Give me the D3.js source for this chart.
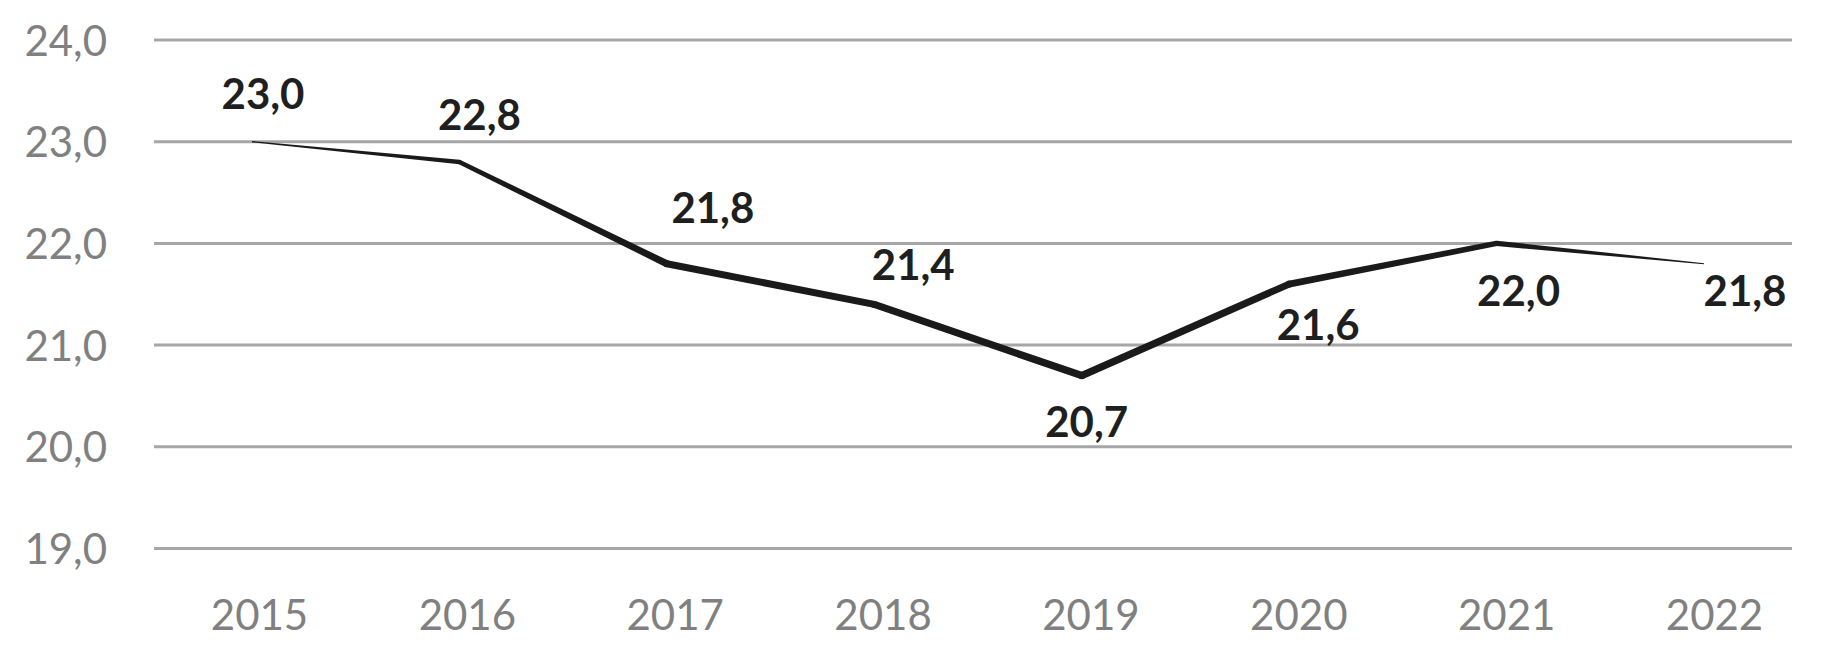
<!DOCTYPE html>
<html>
<head>
<meta charset="utf-8">
<script src="https://cdn.jsdelivr.net/npm/d3@7"></script>
<style>
  html, body { margin: 0; padding: 0; background: #ffffff; }
  svg { display: block; }
</style>
</head>
<body>
<svg id="chart" width="1833" height="655"></svg>
<script>
// ---- data ----
const years = ["2015", "2016", "2017", "2018", "2019", "2020", "2021", "2022"];
const values = [23.0, 22.8, 21.8, 21.4, 20.7, 21.6, 22.0, 21.8];
const valueLabels = ["23,0", "22,8", "21,8", "21,4", "20,7", "21,6", "22,0", "21,8"];
const yTicks = [19, 20, 21, 22, 23, 24];
const yTickLabels = ["19,0", "20,0", "21,0", "22,0", "23,0", "24,0"];

// ---- styling / placement (not data) ----
const strokeWidths = [1.4, 4.4, 7, 7, 7.4, 7, 5.4, 1.2];
const labelDx = [11, 20, 46, 39, 5, 29, 22, 41];
const labelDy = [-33, -32, -41, -24, 61, 56, 63, 42];

const svg = d3.select("#chart");
const W = 1833, H = 655;
svg.append("rect").attr("width", W).attr("height", H).attr("fill", "#ffffff");

const gridLeft = 154, gridRight = 1792;
const y = d3.scaleLinear().domain([19, 24]).range([548.5, 40]);
const x = d3.scalePoint().domain(years).range([252, 1704]);
const xLab = d3.scalePoint().domain(years).range([259, 1714]);

const font = "Lato, 'Open Sans', sans-serif";

// gridlines
svg.append("g").selectAll("line").data(yTicks).join("line")
  .attr("x1", gridLeft).attr("x2", gridRight)
  .attr("y1", d => y(d)).attr("y2", d => y(d))
  .attr("stroke", "#a6a6a6").attr("stroke-width", 3);

// y axis labels
const yAxis = d3.axisLeft(y).tickValues(yTicks)
  .tickFormat((d, i) => yTickLabels[i]).tickSize(0).tickPadding(0);
const gy = svg.append("g").attr("transform", "translate(107,0)").call(yAxis);
gy.select(".domain").remove();
gy.selectAll("text").attr("font-family", font).attr("font-size", 42)
  .attr("fill", "#808080").attr("dy", "0.36em");

// x axis labels
const xAxis = d3.axisBottom(xLab).tickSize(0).tickPadding(0);
const gx = svg.append("g").attr("transform", "translate(0,600)").call(xAxis);
gx.select(".domain").remove();
gx.selectAll("text").attr("font-family", font).attr("font-size", 42)
  .attr("fill", "#808080").attr("dy", "0.71em");

// tapered line: build per-segment polygons from the scaled points
const pts = values.map((v, i) => [x(years[i]), y(v), strokeWidths[i]]);
const segs = [];
for (let i = 0; i < pts.length - 1; i++) {
  const [x0, y0, w0] = pts[i], [x1, y1, w1] = pts[i + 1];
  const dx = x1 - x0, dy = y1 - y0, len = Math.hypot(dx, dy);
  const nx = -dy / len, ny = dx / len;
  segs.push([
    [x0 + nx * w0 / 2, y0 + ny * w0 / 2],
    [x1 + nx * w1 / 2, y1 + ny * w1 / 2],
    [x1 - nx * w1 / 2, y1 - ny * w1 / 2],
    [x0 - nx * w0 / 2, y0 - ny * w0 / 2]
  ]);
}
const poly = d3.line();
const gl = svg.append("g");
gl.selectAll("path").data(segs).join("path")
  .attr("d", d => poly(d) + "Z")
  .attr("fill", "#1a1a1a");
gl.selectAll("circle").data(pts.slice(1, -1)).join("circle")
  .attr("cx", d => d[0]).attr("cy", d => d[1]).attr("r", d => d[2] / 2)
  .attr("fill", "#1a1a1a");

// value labels
svg.append("g").selectAll("text").data(values).join("text")
  .attr("x", (d, i) => x(years[i]) + labelDx[i])
  .attr("y", (d, i) => y(d) + labelDy[i])
  .attr("text-anchor", "middle")
  .attr("font-family", font).attr("font-size", 42).attr("font-weight", "bold")
  .attr("fill", "#1f1f1f")
  .text((d, i) => valueLabels[i]);
</script>
</body>
</html>
